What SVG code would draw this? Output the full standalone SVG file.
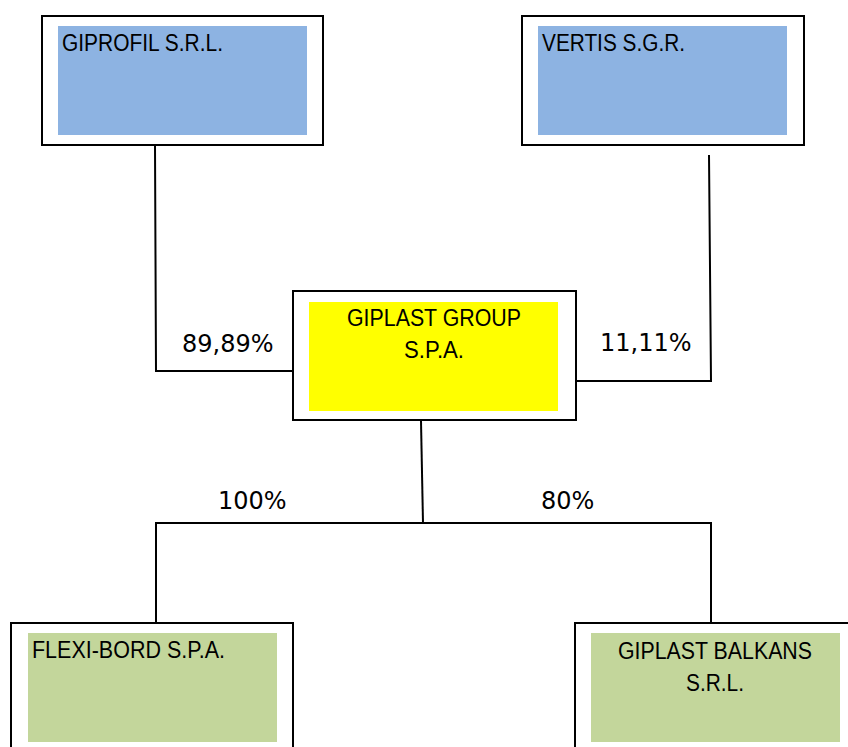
<svg xmlns="http://www.w3.org/2000/svg" width="848" height="747" viewBox="0 0 848 747">
<style>
.outer{fill:#ffffff;stroke:#000000;stroke-width:2}
.blue{fill:#8DB3E2}
.yellow{fill:#FFFF00}
.green{fill:#C3D69B}
.name{font-family:"Liberation Sans",Arial,sans-serif;font-size:23px;fill:#000000}
.pct{font-family:"DejaVu Sans",Verdana,sans-serif;font-size:24px;fill:#000000}
.conn{fill:none;stroke:#000000;stroke-width:2}
</style>
<rect width="848" height="747" fill="#ffffff"/>
<g id="connectors">
<polyline class="conn" points="155,145 156,371 293,371"/>
<polyline class="conn" points="709,155 711,381 576,381"/>
<polyline class="conn" points="421,421 423,523"/>
<polyline class="conn" points="156,622 156,523 711,523 711,622"/>
<text class="pct" x="182" y="352">89,89%</text>
<text class="pct" x="600" y="351">11,11%</text>
<text class="pct" x="218" y="509">100%</text>
<text class="pct" x="541" y="509">80%</text>
</g>
<g id="giprofil">
<rect class="outer" x="42" y="16" width="281" height="129"/>
<rect class="blue" x="58" y="26" width="249" height="109"/>
<text class="name" x="62" y="51" textLength="161" lengthAdjust="spacingAndGlyphs">GIPROFIL S.R.L.</text>
</g>
<g id="vertis">
<rect class="outer" x="522" y="16" width="282" height="129"/>
<rect class="blue" x="538" y="26" width="249" height="109"/>
<text class="name" x="542" y="51" textLength="143" lengthAdjust="spacingAndGlyphs">VERTIS S.G.R.</text>
</g>
<g id="giplast-group">
<rect class="outer" x="293" y="291" width="283" height="129"/>
<rect class="yellow" x="309" y="302" width="249" height="109"/>
<text class="name" x="434" y="326" text-anchor="middle" textLength="174" lengthAdjust="spacingAndGlyphs">GIPLAST GROUP</text>
<text class="name" x="434" y="358" text-anchor="middle" textLength="60" lengthAdjust="spacingAndGlyphs">S.P.A.</text>
</g>
<g id="flexi-bord">
<rect class="outer" x="11" y="623" width="282" height="140"/>
<rect class="green" x="28" y="633" width="249" height="109"/>
<text class="name" x="32" y="658" textLength="193" lengthAdjust="spacingAndGlyphs">FLEXI-BORD S.P.A.</text>
</g>
<g id="giplast-balkans">
<rect class="outer" x="575" y="623" width="290" height="140"/>
<rect class="green" x="591" y="633" width="249" height="109"/>
<text class="name" x="715" y="659" text-anchor="middle" textLength="194" lengthAdjust="spacingAndGlyphs">GIPLAST BALKANS</text>
<text class="name" x="715" y="691" text-anchor="middle" textLength="58" lengthAdjust="spacingAndGlyphs">S.R.L.</text>
</g>
</svg>
